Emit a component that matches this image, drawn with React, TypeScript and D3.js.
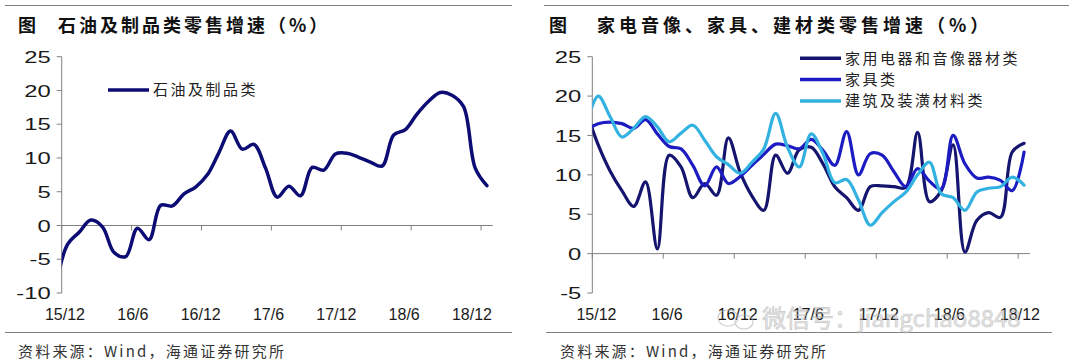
import React from 'react';
import * as d3 from 'd3';

// Monthly observations, 15/11 .. 18/12 (first one sits left of the axis and is clipped)
const months = [
  '15/11', '15/12',
  '16/1', '16/2', '16/3', '16/4', '16/5', '16/6', '16/7', '16/8', '16/9', '16/10', '16/11', '16/12',
  '17/1', '17/2', '17/3', '17/4', '17/5', '17/6', '17/7', '17/8', '17/9', '17/10', '17/11', '17/12',
  '18/1', '18/2', '18/3', '18/4', '18/5', '18/6', '18/7', '18/8', '18/9', '18/10', '18/11', '18/12',
];

const tickLabels = ['15/12', '16/6', '16/12', '17/6', '17/12', '18/6', '18/12'];
const tickMonths = [0, 6, 12, 18, 24, 30, 36];

const leftYTicks = [25, 20, 15, 10, 5, 0, -5, -10];
const rightYTicks = [25, 20, 15, 10, 5, 0, -5];

// 石油及制品类
const petroleum = [
  -9.0, -2.8,
  -1.0, 0.8, -0.2, -4.0, -4.6, -0.4, -2.1, 3.0, 2.9, 4.7, 5.7, 7.5,
  10.8, 14.0, 11.3, 12.0, 8.5, 4.2, 5.8, 4.4, 8.6, 8.2, 10.6, 10.7,
  10.1, 9.4, 8.8, 13.4, 14.2, 16.5, 18.4, 19.7, 19.3, 17.6, 8.5, 5.9,
];

// 家用电器和音像器材类
const appliances = [
  18.0, 13.8,
  10.5, 8.0, 6.0, 9.1, 0.6, 12.5, 11.0, 7.1, 8.9, 7.4, 14.7, 10.3,
  7.3, 5.5, 12.5, 10.2, 13.2, 13.5, 11.4, 8.5, 7.1, 5.5, 8.5, 8.6,
  8.5, 8.4, 15.4, 6.6, 8.0, 13.8, 0.2, 4.2, 5.2, 4.6, 12.9, 14.0,
];

// 家具类
const furniture = [
  15.7, 16.5,
  16.7, 16.5, 15.9, 17.0, 15.2, 13.6, 13.3, 11.2, 8.6, 11.0, 8.9, 9.8,
  11.2, 12.6, 13.9, 13.7, 13.3, 14.5, 13.1, 11.2, 15.5, 10.0, 12.7, 12.5,
  10.4, 8.5, 10.8, 9.2, 8.2, 15.0, 11.4, 9.6, 9.7, 9.3, 8.0, 12.9,
];

// 建筑及装潢材料类
const building = [
  16.5, 20.0,
  17.4, 14.8, 15.9, 17.4, 16.1, 14.2, 15.3, 16.3, 14.4, 12.3, 11.3, 10.2,
  11.6, 13.3, 17.8, 13.5, 11.0, 15.2, 12.7, 9.0, 9.4, 6.8, 3.6, 5.2,
  6.6, 7.8, 10.0, 11.6, 7.6, 7.1, 5.5, 7.8, 8.3, 8.5, 9.7, 8.7,
];

const CJK = '"Noto Sans CJK SC", "Noto Sans", sans-serif';
const LATIN = '"Liberation Sans", Arial, sans-serif';
const AXIS = '#808080';

type Series = { name: string; values: number[]; color: string };

type PanelProps = {
  id: string;
  title: string;
  titleX: number;
  mainX: number;
  titleSpacing: number;
  x0: number;
  x1: number;
  yDomain: [number, number];
  yTicks: number[];
  series: Series[];
  legendX: number;
  legendY: number;
  legendStep: number;
  labelRange: [number, number];
  ruleTop: [number, number];
  ruleBottom: [number, number];
  footerX: number;
  strokeWidth: number;
};

function Panel(p: PanelProps) {
  const x = d3.scaleLinear().domain([0, 37]).range([p.x0, p.x1]);
  const y = d3.scaleLinear().domain(p.yDomain).range([293, 56.7]);
  const lx = d3.scalePoint<string>().domain(tickLabels).range(p.labelRange);
  // months[0] is 15/11, centred half a month left of the 15/12 tick
  const line = d3
    .line<number>()
    .x((_, i) => x(i - 0.5))
    .y((d) => y(d))
    .curve(d3.curveCatmullRom.alpha(0.5));
  const y0 = y(0);
  return (
    <g>
      <defs>
        <clipPath id={`clip-${p.id}`}>
          <rect x={p.x0} y={40} width={p.x1 - p.x0} height={270} />
        </clipPath>
      </defs>
      {/* rules */}
      <line x1={p.ruleTop[0]} x2={p.ruleTop[1]} y1={5.5} y2={5.5} stroke={AXIS} strokeWidth={1} />
      <line x1={p.ruleBottom[0]} x2={p.ruleBottom[1]} y1={332.5} y2={332.5} stroke={AXIS} strokeWidth={1} />
      {/* title */}
      <text x={p.titleX} y={32} fontFamily={CJK} fontWeight={700} fontSize={18} fill="#111">图</text>
      <text x={p.mainX} y={32} fontFamily={CJK} fontWeight={700} fontSize={18} letterSpacing={p.titleSpacing} fill="#111">
        {p.title}
      </text>
      {/* y axis */}
      <line x1={p.x0} x2={p.x0} y1={y(p.yDomain[1])} y2={y(p.yDomain[0])} stroke={AXIS} strokeWidth={1} />
      {p.yTicks.map((t) => (
        <g key={t}>
          <line x1={p.x0 - 5} x2={p.x0} y1={y(t)} y2={y(t)} stroke={AXIS} strokeWidth={1} />
          <text
            transform={`translate(${p.x0 - 11},${y(t)}) scale(1.4,1)`}
            dy="0.36em"
            textAnchor="end"
            fontFamily={LATIN}
            fontSize={17}
            fill="#1a1a1a"
          >
            {t}
          </text>
        </g>
      ))}
      {/* x axis at zero */}
      <line x1={p.x0} x2={p.x1} y1={y0} y2={y0} stroke={AXIS} strokeWidth={1} />
      {tickMonths.map((m) => (
        <line key={m} x1={x(m)} x2={x(m)} y1={y0} y2={y0 + 5} stroke={AXIS} strokeWidth={1} />
      ))}
      {tickLabels.map((l) => (
        <text key={l} x={lx(l)} y={320} textAnchor="middle" fontFamily={LATIN} fontSize={16} fill="#1a1a1a">
          {l}
        </text>
      ))}
      {/* series */}
      <g clipPath={`url(#clip-${p.id})`}>
        {p.series.map((s) => (
          <path key={s.name} d={line(s.values) || ''} fill="none" stroke={s.color} strokeWidth={p.strokeWidth} strokeLinejoin="round" strokeLinecap="round" />
        ))}
      </g>
      {/* legend */}
      {p.series.map((s, i) => (
        <g key={s.name}>
          <line x1={p.legendX} x2={p.legendX + 41} y1={p.legendY + i * p.legendStep} y2={p.legendY + i * p.legendStep} stroke={s.color} strokeWidth={3.5} />
          <text x={p.legendX + 45} y={p.legendY + i * p.legendStep} dy="0.36em" fontFamily={CJK} fontSize={15} letterSpacing={2.5} fill="#222">
            {s.name}
          </text>
        </g>
      ))}
      {/* footer */}
      <text x={p.footerX} y={357} fontFamily={CJK} fontSize={15} letterSpacing={2.2} fill="#333">
        资料来源：Wind，海通证券研究所
      </text>
    </g>
  );
}

export default function App() {
  return (
    <svg width={1080} height={364} style={{ position: 'absolute', left: 0, top: 0, background: '#fff' }}>
      <rect width={1080} height={364} fill="#fff" />
      <Panel
        id="left"
        title="石油及制品类零售增速（%）"
        titleX={18}
        mainX={58}
        titleSpacing={3}
        x0={61.7}
        x1={492.7}
        yDomain={[-10, 25]}
        yTicks={leftYTicks}
        series={[{ name: '石油及制品类', values: petroleum, color: '#0c0c74' }]}
        legendX={108}
        legendY={90}
        legendStep={21}
        labelRange={[65, 472]}
        ruleTop={[5, 512]}
        ruleBottom={[5, 512]}
        footerX={18}
        strokeWidth={3.5}
      />
      <Panel
        id="right"
        title="家电音像、家具、建材类零售增速（%）"
        titleX={549}
        mainX={597}
        titleSpacing={4}
        x0={592.3}
        x1={1030}
        yDomain={[-5, 25]}
        yTicks={rightYTicks}
        series={[
          { name: '家用电器和音像器材类', values: appliances, color: '#15146e' },
          { name: '家具类', values: furniture, color: '#1c1cc2' },
          { name: '建筑及装潢材料类', values: building, color: '#33b2e2' },
        ]}
        legendX={800}
        legendY={58.3}
        legendStep={21.3}
        labelRange={[596.5, 1020]}
        ruleTop={[544, 1069]}
        ruleBottom={[546, 1052]}
        footerX={560}
        strokeWidth={3.2}
      />
      {/* watermark */}
      <g opacity={0.55}>
        <ellipse cx={728} cy={318} rx={10} ry={8} fill="none" stroke="#aaa" strokeWidth={1.2} />
        <ellipse cx={744} cy={322} rx={9} ry={7} fill="none" stroke="#aaa" strokeWidth={1.2} />
        <text x={762} y={327} fontFamily={CJK} fontSize={24} fill="#d0d0d0" stroke="#999" strokeWidth={0.6}>
          微信号：jiangchao8848
        </text>
      </g>
    </svg>
  );
}
